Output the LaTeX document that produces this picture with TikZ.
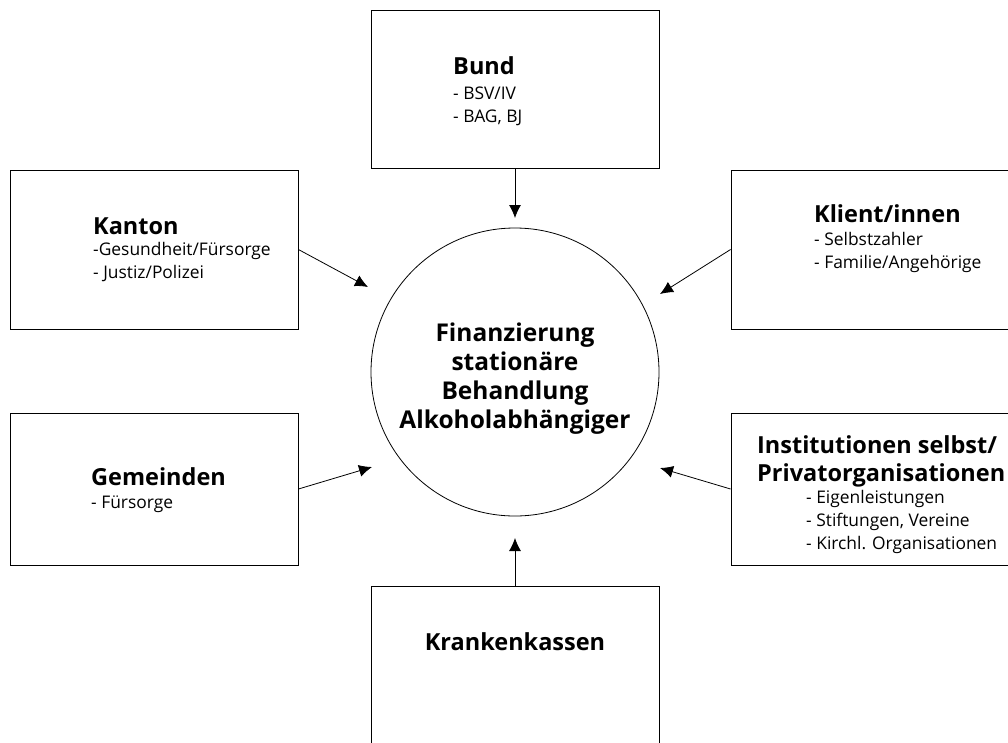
\documentclass[tikz,border=0pt]{standalone}
\usepackage{fontspec}
\setmainfont{Open Sans}
\usetikzlibrary{arrows.meta}

\begin{document}
\begin{tikzpicture}[x=1pt,y=-1pt,
  box/.style={draw,line width=0.9pt,minimum width=288pt,inner sep=0pt},
  arr/.style={line width=0.8pt,-{Latex[length=13pt,width=12pt]}},
  head/.style={anchor=base west,inner sep=0pt,font=\fontsize{23.5}{28}\selectfont\bfseries},
  items/.style={anchor=base west,inner sep=0pt,align=left,font=\fontsize{17.4}{22.8}\selectfont}]
\clip (0,0) rectangle (1008,742);
% boxes round the circle
\node[box,minimum height=158pt] (bund) at (515,89) {};
\node[box,minimum height=159pt] (kanton) at (154,249.5) {};
\node[box,minimum height=159pt] (klient) at (875,249.5) {};
\node[box,minimum height=152pt] (gemeinden) at (154,489) {};
\node[box,minimum height=152pt] (institut) at (875,489) {};
\node[box,minimum height=159pt] (kassen) at (515,665.5) {};
\node[draw,circle,line width=0.8pt,minimum size=288pt,inner sep=0pt] (fin) at (515,372) {};
% texts (base = last line)
\node[head] (bundT) at (453,74) {Bund};
\node[items] (bundL) at (453,122) {- BSV/IV\\- BAG, BJ};
\node[head] (kantonT) at (93,234) {Kanton};
\node[items] (kantonL) at (93,278) {-Gesundheit/Fürsorge\\- Justiz/Polizei};
\node[head] (klientT) at (814,222) {Klient/innen};
\node[items] (klientL) at (814,268) {- Selbstzahler\\- Familie/Angehörige};
\node[head] (gemeindenT) at (91,485) {Gemeinden};
\node[items] (gemeindenL) at (91,508) {- Fürsorge};
\node[head,align=left] (institutT) at (757,481) {Institutionen selbst/\\Privatorganisationen};
\node[items] (institutL) at (806,549) {- Eigenleistungen\\- Stiftungen, Vereine\\- Kirchl. Organisationen};
\node[head,anchor=base] (kassenT) at (515,650) {Krankenkassen};
\node[head,anchor=base,align=center,font=\fontsize{24.5}{28.7}\selectfont\bfseries] (finT) at (515,428) {Finanzierung\\stationäre\\Behandlung\\Alkoholabhängiger};
% arrow ends
\coordinate (bundE) at (515,218);
\coordinate (kantonE) at (368,287);
\coordinate (klientE) at (660,294);
\coordinate (gemeindenE) at (372,467);
\coordinate (institutE) at (660,468);
\coordinate (kassenE) at (515,538);
\draw[arr] (bund.south) -- (bundE);
\draw[arr] (kanton.east) -- (kantonE);
\draw[arr] (klient.west) -- (klientE);
\draw[arr] (gemeinden.east) -- (gemeindenE);
\draw[arr] (institut.west) -- (institutE);
\draw[arr] (kassen.north) -- (kassenE);
\end{tikzpicture}
\end{document}
